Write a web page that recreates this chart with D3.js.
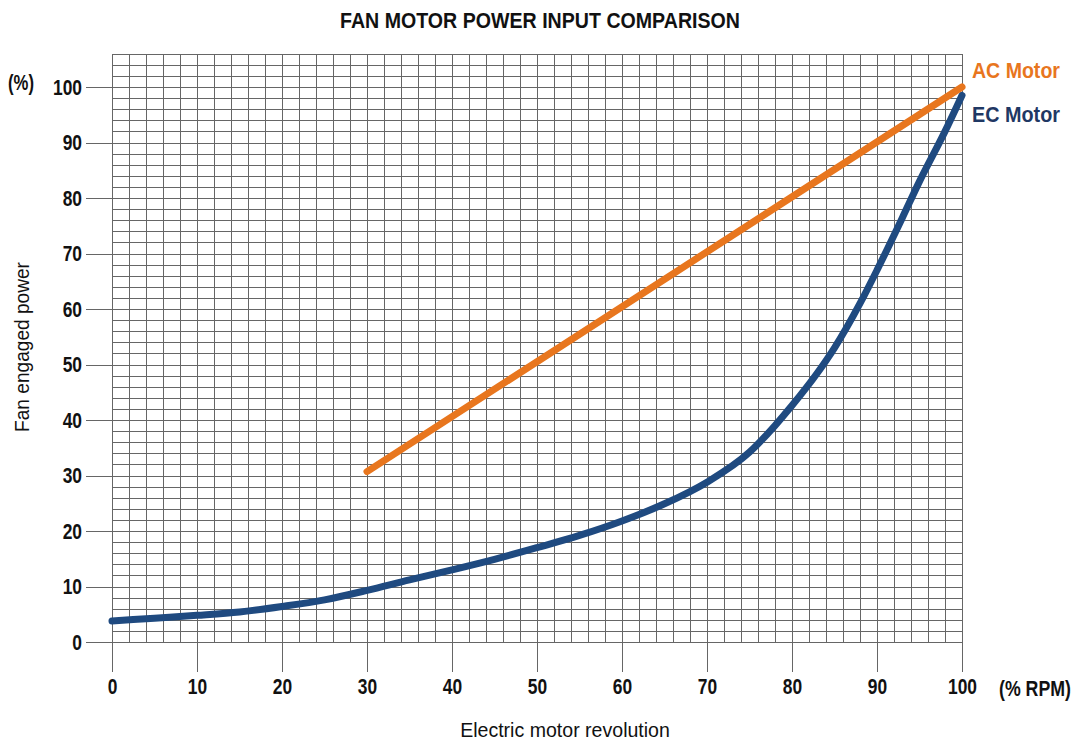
<!DOCTYPE html>
<html><head><meta charset="utf-8">
<script src="https://cdn.jsdelivr.net/npm/d3@7"></script>
<style>
body{margin:0;background:#fff;}
text{font-family:"Liberation Sans",Arial,sans-serif;}
</style></head><body>
<svg id="chart" width="1078" height="743"></svg>
<script>
const xTicks = [0,10,20,30,40,50,60,70,80,90,100];
const yTicks = [0,10,20,30,40,50,60,70,80,90,100];
const acX = [30, 100];
const acY = [30.7, 100];
const ecX = [0, 5, 10, 15, 20, 25, 30, 35, 40, 45, 50, 55, 60, 65, 70, 75, 78, 80, 83, 85, 88, 90, 93, 95, 98, 100];
const ecY = [3.8, 4.3, 4.8, 5.4, 6.4, 7.6, 9.3, 11.2, 13.0, 14.9, 17.0, 19.2, 21.8, 24.9, 28.8, 34.2, 39.0, 42.6, 48.5, 53.0, 61.0, 67.0, 76.5, 83.0, 92.0, 98.5];
const seriesNames = ["AC Motor", "EC Motor"];
const colors = ["#E8761E", "#1F4A80"];
const labelColors = ["#E8761E", "#1F3864"];

const svg = d3.select("#chart");
const x = d3.scaleLinear().domain([0,100]).range([112,962]);
const y = d3.scaleLinear().domain([0,100]).range([642,87]);

function condense(sel, factor){
  sel.each(function(){
    const len = this.getComputedTextLength();
    d3.select(this).attr("textLength", len*factor).attr("lengthAdjust","spacingAndGlyphs");
  });
}
// place a text at (px,py), optional rotation, squeezed horizontally to width w
function placeText(str, px, py, w, opts){
  const t = svg.append("text").text(str)
    .attr("font-size", opts.size).attr("font-weight", opts.weight || "normal")
    .attr("fill", opts.fill || "#111").attr("text-anchor", opts.anchor || "start");
  const len = t.node().getComputedTextLength();
  const s = w / len;
  t.attr("transform", `translate(${px},${py})` + (opts.rotate ? ` rotate(${opts.rotate})` : "") + ` scale(${s},1)`);
  return t;
}

// grid
const grid = svg.append("g").attr("stroke","#666").attr("stroke-width",1).attr("shape-rendering","crispEdges");
const gx = d3.range(0,100.1,2);
const gy = d3.range(0,106.1,2);
const yTop = y(106);
grid.selectAll("line.v").data(gx).join("line")
  .attr("x1",d=>Math.round(x(d))+0.5).attr("x2",d=>Math.round(x(d))+0.5)
  .attr("y1",yTop).attr("y2",y(0));
grid.selectAll("line.h").data(gy).join("line")
  .attr("y1",d=>Math.round(y(d))+0.5).attr("y2",d=>Math.round(y(d))+0.5)
  .attr("x1",x(0)).attr("x2",x(100));

// axes
const xAxis = d3.axisBottom(x).tickValues(xTicks).tickSize(30).tickPadding(6).tickFormat(d3.format("d"));
const gxa = svg.append("g").attr("transform",`translate(0,${y(0)})`).call(xAxis);
gxa.select(".domain").remove();
gxa.selectAll("line").attr("stroke","#666").attr("shape-rendering","crispEdges");
gxa.selectAll("text").attr("font-size",22).attr("font-weight","bold").attr("fill","#111")
  .attr("font-family","Liberation Sans, Arial, sans-serif");
condense(gxa.selectAll("text"), 0.79);

const yAxis = d3.axisLeft(y).tickValues(yTicks).tickSize(26).tickPadding(4).tickFormat(d3.format("d"));
const gya = svg.append("g").attr("transform",`translate(${x(0)},0)`).call(yAxis);
gya.select(".domain").remove();
gya.selectAll("line").attr("stroke","#666").attr("shape-rendering","crispEdges");
gya.selectAll("text").attr("font-size",22).attr("font-weight","bold").attr("fill","#111")
  .attr("font-family","Liberation Sans, Arial, sans-serif");
condense(gya.selectAll("text"), 0.79);

// lines
const line = d3.line().x(d=>x(d[0])).y(d=>y(d[1])).curve(d3.curveMonotoneX);
const ac = acX.map((v,i)=>[v,acY[i]]);
const ec = ecX.map((v,i)=>[v,ecY[i]]);
svg.append("path").datum(ec).attr("d",line).attr("fill","none").attr("stroke",colors[1])
  .attr("stroke-width",7).attr("stroke-linecap","round");
svg.append("path").datum(ac).attr("d",line).attr("fill","none").attr("stroke",colors[0])
  .attr("stroke-width",7).attr("stroke-linecap","round");

// series labels
placeText(seriesNames[0], 972, 78, 88, {size:22, weight:"bold", fill:labelColors[0]});
placeText(seriesNames[1], 972, 122, 88, {size:22, weight:"bold", fill:labelColors[1]});

// titles
placeText("FAN MOTOR POWER INPUT COMPARISON", 540, 28, 400, {size:22, weight:"bold", anchor:"middle"});
placeText("(%)", 8, 90, 26, {size:22, weight:"bold"});
placeText("(% RPM)", 999, 696, 72, {size:22, weight:"bold"});
placeText("Fan engaged power", 29, 347, 170, {size:20, anchor:"middle", rotate:-90});
placeText("Electric motor revolution", 565, 737, 210, {size:20, anchor:"middle"});
</script>
</body></html>
